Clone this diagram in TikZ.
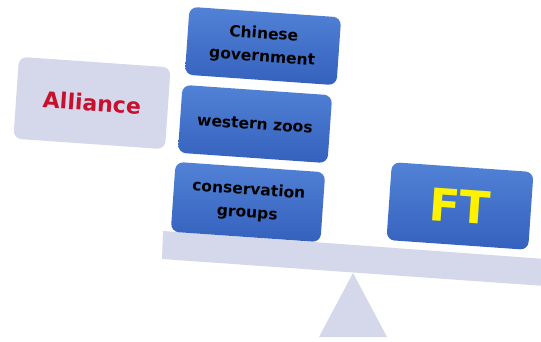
\documentclass[tikz,border=0pt]{standalone}
\usepackage{fontspec}
\setmainfont{DejaVu Sans}
\usepackage{xcolor}
\definecolor{boxtop}{HTML}{5282D6}
\definecolor{boxbot}{HTML}{3461BD}
\definecolor{pale}{HTML}{D4D8EA}
\definecolor{alred}{HTML}{C8102E}

\begin{document}
\begin{tikzpicture}[x=1pt,y=-1pt,
  block/.style={rectangle, rounded corners=8pt, rotate=-4, top color=boxtop, bottom color=boxbot,
    minimum width=#1, align=center, font=\bfseries\fontsize{15.5}{23}\selectfont, text=black},
  side/.style={rectangle, rounded corners=8pt, rotate=-4, fill=pale, minimum width=152pt, minimum height=82pt}]
\useasboundingbox (0,0) rectangle (541,342);
% fulcrum and beam
\fill[pale] (353,273) -- (387,337) -- (319,337) -- cycle;
\fill[pale] (163,231) -- (545,259) -- (545,286) -- (162,259) -- cycle;
% left pan
\node[block=152pt, minimum height=68pt] (gov) at (263,46) {Chinese\\government};
\node[block=150pt, minimum height=68pt] (zoos) at (255,124) {western zoos};
\node[block=150pt, minimum height=70pt] (groups) at (248,202) {conservation\\groups};
\node[side, text=alred, font=\bfseries\fontsize{22}{26}\selectfont] (alliance) at (92,103) {Alliance};
% right pan
\node[block=142pt, minimum height=78pt, text=yellow, font=\bfseries\fontsize{45}{52}\selectfont] (ft) at (460,206) {FT};
\end{tikzpicture}
\end{document}
